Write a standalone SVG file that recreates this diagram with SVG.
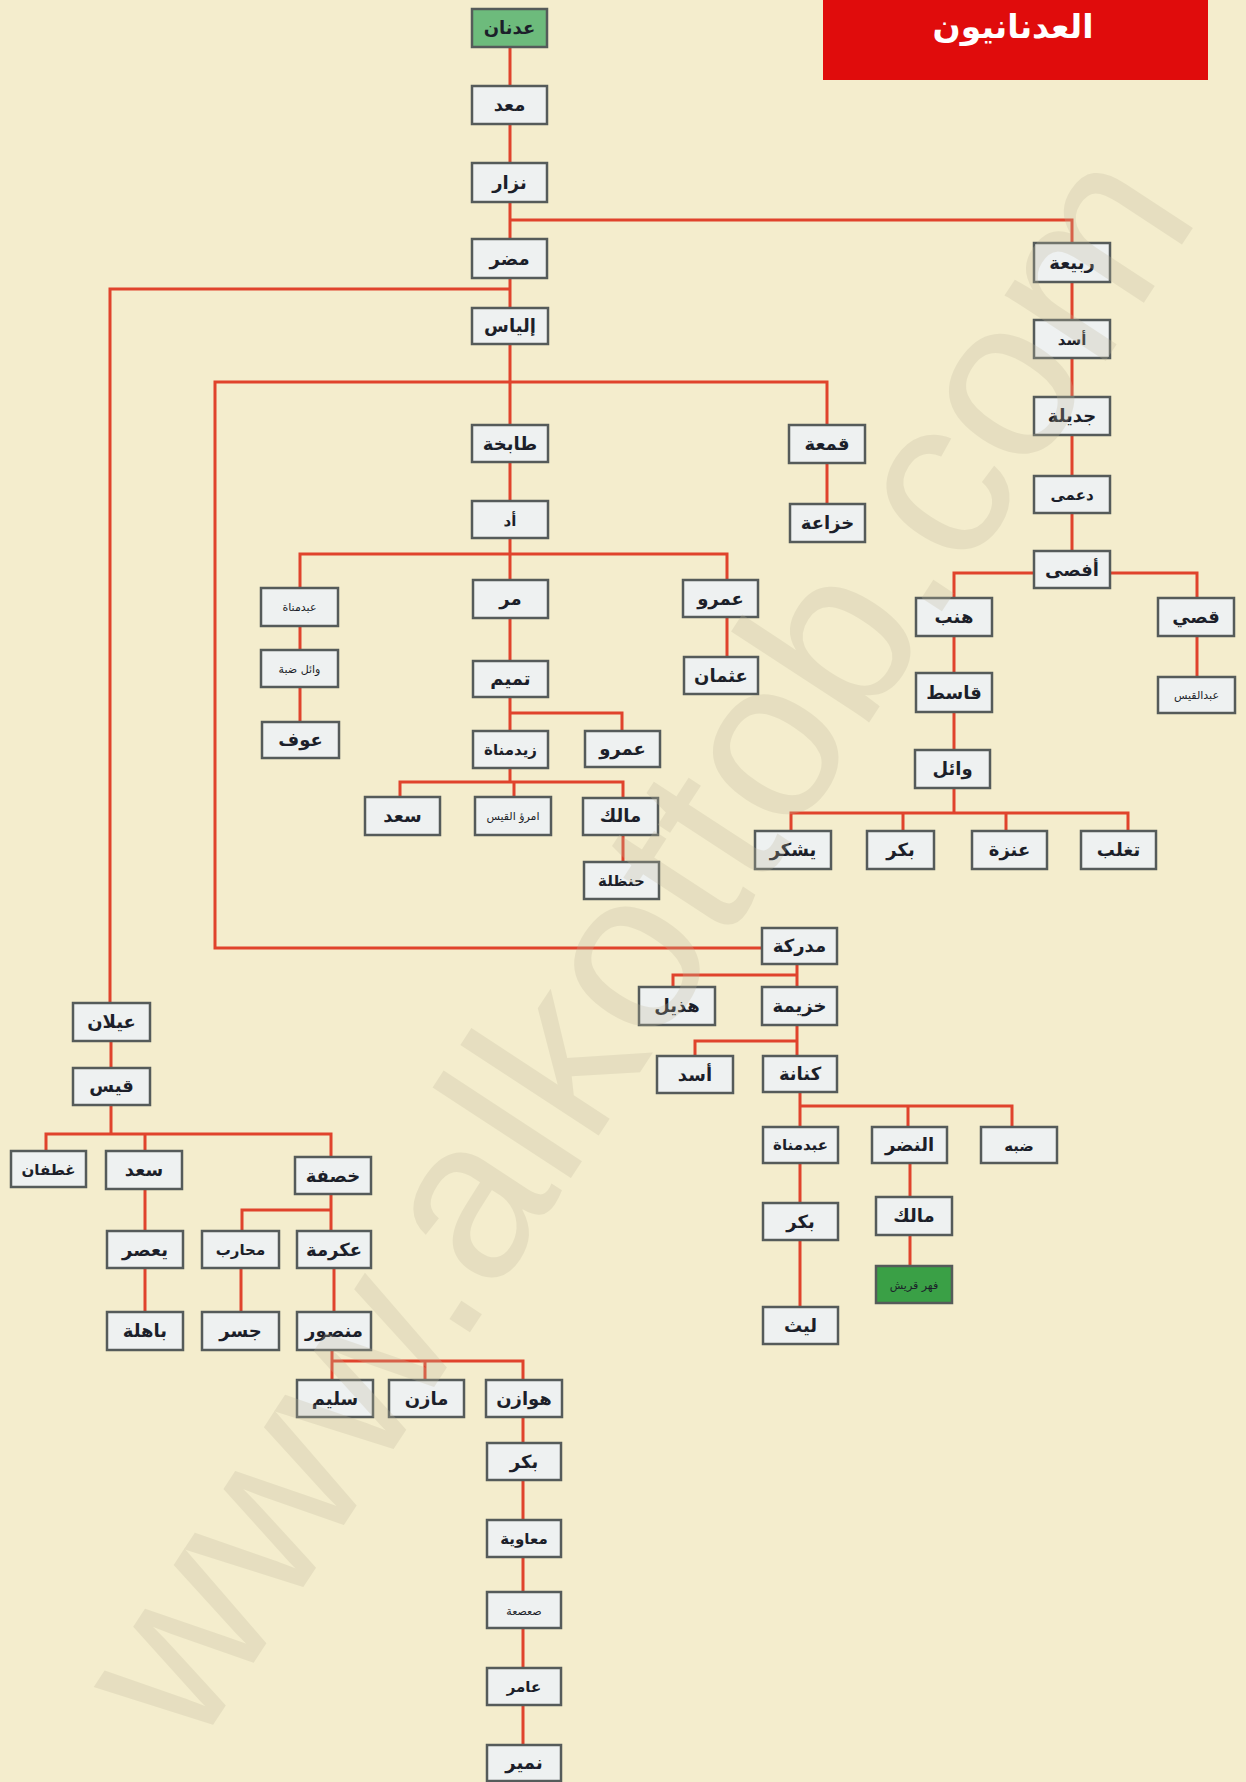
<svg xmlns="http://www.w3.org/2000/svg" width="1246" height="1782" viewBox="0 0 1246 1782">
<defs>
<style>
.bg{fill:#f4edcd}
.b rect{fill:#eef1f1;stroke:#555b5a;stroke-width:2.5}
.b.g rect{fill:#6dbb7c}
.b.dg rect{fill:#3aa046}
.b text{font-family:"DejaVu Sans",sans-serif;font-weight:bold;font-size:18px;fill:#1c1f2a;text-anchor:middle}
.b text.s{font-size:11px;font-weight:normal}
.b text.m{font-size:15px}
.c path{fill:none;stroke:#e0432c;stroke-width:3}
.title text{font-family:"DejaVu Sans",sans-serif;font-weight:bold;font-size:33px;fill:#ffffff;text-anchor:middle}
.wm{font-family:"Liberation Sans",sans-serif;font-size:228px;fill:#bfb79c;opacity:0.26;text-anchor:middle}
</style>
</defs>
<rect class="bg" x="0" y="0" width="1246" height="1782"/>
<g id="title" class="title">
<rect x="823" y="0" width="385" height="80" fill="#e00c0c"/>
<text x="1013" y="38">العدنانيون</text>
</g>
<g id="connectors" class="c">
<path d="M510,47V782"/>
<path d="M510,220H1072V551"/>
<path d="M954,598V573H1197V598"/>
<path d="M954,636V813"/>
<path d="M1197,636V677"/>
<path d="M791,831V813H1128V831M903,813V831M1006,813V831"/>
<path d="M510,289H110V1003"/>
<path d="M111,1041V1134"/>
<path d="M46,1151V1134H331V1157M145,1134V1151"/>
<path d="M145,1189V1312"/>
<path d="M331,1194V1231M242,1231V1210H331"/>
<path d="M241,1268V1312"/>
<path d="M334,1268V1312"/>
<path d="M332,1350V1380M332,1361H523V1745M425,1361V1380"/>
<path d="M827,425V382H215V948H762"/>
<path d="M827,463V504"/>
<path d="M300,588V554H727V657"/>
<path d="M300,626V722"/>
<path d="M510,713H622V731"/>
<path d="M400,797V782H623V862M514,782V797"/>
<path d="M797,964V987M673,987V975H797"/>
<path d="M797,1025V1056M695,1056V1041H797"/>
<path d="M800,1092V1307M800,1106H1012V1127M908,1106V1127"/>
<path d="M910,1163V1266"/>
</g>
<g id="n_adnan" class="b g"><rect x="472" y="9" width="75" height="38"/><text x="509.5" y="34">عدنان</text></g>
<g id="n_maad" class="b"><rect x="472" y="86" width="75" height="38"/><text x="509.5" y="111">معد</text></g>
<g id="n_nizar" class="b"><rect x="472" y="163" width="75" height="39"/><text x="509.5" y="189">نزار</text></g>
<g id="n_mudar" class="b"><rect x="472" y="239" width="75" height="39"/><text x="509.5" y="265">مضر</text></g>
<g id="n_ilyas" class="b"><rect x="472" y="308" width="76" height="36"/><text x="510" y="332">إلياس</text></g>
<g id="n_tabikha" class="b"><rect x="472" y="425" width="76" height="37"/><text x="510" y="450">طابخة</text></g>
<g id="n_ud" class="b"><rect x="472" y="501" width="76" height="37"/><text x="510" y="526" class="m">أد</text></g>
<g id="n_qamaa" class="b"><rect x="789" y="425" width="76" height="38"/><text x="827" y="450">قمعة</text></g>
<g id="n_khuzaa" class="b"><rect x="790" y="504" width="75" height="38"/><text x="827.5" y="529">خزاعة</text></g>
<g id="n_rabia" class="b"><rect x="1034" y="243" width="76" height="39"/><text x="1072" y="269">ربيعة</text></g>
<g id="n_asad1" class="b"><rect x="1034" y="320" width="76" height="38"/><text x="1072" y="345" class="m">أسد</text></g>
<g id="n_jadila" class="b"><rect x="1034" y="397" width="76" height="38"/><text x="1072" y="422">جديلة</text></g>
<g id="n_dumi" class="b"><rect x="1034" y="476" width="76" height="37"/><text x="1072" y="500" class="m">دعمى</text></g>
<g id="n_afsa" class="b"><rect x="1034" y="551" width="76" height="37"/><text x="1072" y="576">أفصى</text></g>
<g id="n_hinb" class="b"><rect x="916" y="598" width="76" height="38"/><text x="954" y="623">هنب</text></g>
<g id="n_qusay" class="b"><rect x="1158" y="598" width="76" height="38"/><text x="1196" y="623">قصي</text></g>
<g id="n_qasit" class="b"><rect x="916" y="673" width="76" height="39"/><text x="954" y="699">قاسط</text></g>
<g id="n_abdqays" class="b"><rect x="1158" y="677" width="77" height="36"/><text x="1196.5" y="699" class="s">عبدالقيس</text></g>
<g id="n_wail" class="b"><rect x="915" y="750" width="75" height="38"/><text x="952.5" y="775">وائل</text></g>
<g id="n_yashkur" class="b"><rect x="755" y="831" width="76" height="38"/><text x="793" y="856">يشكر</text></g>
<g id="n_bakr1" class="b"><rect x="867" y="831" width="67" height="38"/><text x="900.5" y="856">بكر</text></g>
<g id="n_anaza" class="b"><rect x="972" y="831" width="75" height="38"/><text x="1009.5" y="856">عنزة</text></g>
<g id="n_taghlib" class="b"><rect x="1081" y="831" width="75" height="38"/><text x="1118.5" y="856">تغلب</text></g>
<g id="n_abdmanat1" class="b"><rect x="261" y="588" width="77" height="38"/><text x="299.5" y="611" class="s">عبدمناة</text></g>
<g id="n_wailzabba" class="b"><rect x="261" y="650" width="77" height="37"/><text x="299.5" y="673" class="s">وائل ضبة</text></g>
<g id="n_awf" class="b"><rect x="262" y="722" width="77" height="36"/><text x="300.5" y="746">عوف</text></g>
<g id="n_murr" class="b"><rect x="473" y="580" width="75" height="38"/><text x="510.5" y="605">مر</text></g>
<g id="n_amr1" class="b"><rect x="683" y="580" width="75" height="37"/><text x="720.5" y="605">عمرو</text></g>
<g id="n_uthman" class="b"><rect x="684" y="657" width="74" height="37"/><text x="721" y="682">عثمان</text></g>
<g id="n_tamim" class="b"><rect x="473" y="661" width="75" height="36"/><text x="510.5" y="685">تميم</text></g>
<g id="n_zaydmanat" class="b"><rect x="473" y="731" width="75" height="37"/><text x="510.5" y="755" class="m">زيدمناة</text></g>
<g id="n_amr2" class="b"><rect x="585" y="731" width="75" height="36"/><text x="622.5" y="755">عمرو</text></g>
<g id="n_saad1" class="b"><rect x="365" y="797" width="75" height="38"/><text x="402.5" y="822">سعد</text></g>
<g id="n_imru" class="b"><rect x="475" y="797" width="76" height="38"/><text x="513" y="820" class="s">امرؤ القيس</text></g>
<g id="n_malik1" class="b"><rect x="583" y="798" width="75" height="37"/><text x="620.5" y="822">مالك</text></g>
<g id="n_hanzala" class="b"><rect x="584" y="862" width="75" height="37"/><text x="621.5" y="886" class="m">حنظلة</text></g>
<g id="n_mudrika" class="b"><rect x="762" y="928" width="75" height="36"/><text x="799.5" y="952">مدركة</text></g>
<g id="n_hudhayl" class="b"><rect x="639" y="987" width="76" height="38"/><text x="677" y="1012">هذيل</text></g>
<g id="n_khuzayma" class="b"><rect x="762" y="987" width="75" height="38"/><text x="799.5" y="1012">خزيمة</text></g>
<g id="n_asad2" class="b"><rect x="657" y="1056" width="76" height="37"/><text x="695" y="1081">أسد</text></g>
<g id="n_kinana" class="b"><rect x="763" y="1056" width="74" height="36"/><text x="800" y="1080">كنانة</text></g>
<g id="n_abdmanat2" class="b"><rect x="763" y="1127" width="75" height="36"/><text x="800.5" y="1150" class="m">عبدمناة</text></g>
<g id="n_nadr" class="b"><rect x="872" y="1127" width="75" height="36"/><text x="909.5" y="1151">النضر</text></g>
<g id="n_dabba" class="b"><rect x="981" y="1127" width="76" height="36"/><text x="1019" y="1151" class="m">ضبه</text></g>
<g id="n_bakr2" class="b"><rect x="763" y="1203" width="75" height="37"/><text x="800.5" y="1228">بكر</text></g>
<g id="n_malik2" class="b"><rect x="876" y="1197" width="76" height="38"/><text x="914" y="1222">مالك</text></g>
<g id="n_fihr" class="b dg"><rect x="876" y="1266" width="76" height="37"/><text x="914" y="1289" class="s">فهر قريش</text></g>
<g id="n_layth" class="b"><rect x="763" y="1307" width="75" height="37"/><text x="800.5" y="1332">ليث</text></g>
<g id="n_aylan" class="b"><rect x="73" y="1003" width="77" height="38"/><text x="111.5" y="1028">عيلان</text></g>
<g id="n_qays" class="b"><rect x="73" y="1068" width="77" height="37"/><text x="111.5" y="1092">قيس</text></g>
<g id="n_ghatafan" class="b"><rect x="11" y="1151" width="75" height="36"/><text x="48.5" y="1175" class="m">غطفان</text></g>
<g id="n_saad2" class="b"><rect x="106" y="1151" width="76" height="38"/><text x="144" y="1176">سعد</text></g>
<g id="n_khasafa" class="b"><rect x="295" y="1157" width="76" height="37"/><text x="333" y="1182">خصفة</text></g>
<g id="n_yasur" class="b"><rect x="107" y="1231" width="76" height="37"/><text x="145" y="1256">يعصر</text></g>
<g id="n_muharib" class="b"><rect x="202" y="1231" width="77" height="37"/><text x="240.5" y="1255" class="m">محارب</text></g>
<g id="n_ikrima" class="b"><rect x="297" y="1231" width="74" height="37"/><text x="334" y="1256">عكرمة</text></g>
<g id="n_bahila" class="b"><rect x="107" y="1312" width="76" height="38"/><text x="145" y="1337">باهلة</text></g>
<g id="n_jasr" class="b"><rect x="202" y="1312" width="77" height="38"/><text x="240.5" y="1337">جسر</text></g>
<g id="n_mansur" class="b"><rect x="297" y="1312" width="74" height="38"/><text x="334" y="1337">منصور</text></g>
<g id="n_sulaym" class="b"><rect x="297" y="1380" width="76" height="37"/><text x="335" y="1405">سليم</text></g>
<g id="n_mazin" class="b"><rect x="389" y="1380" width="75" height="37"/><text x="426.5" y="1405">مازن</text></g>
<g id="n_hawazin" class="b"><rect x="486" y="1380" width="76" height="37"/><text x="524" y="1405">هوازن</text></g>
<g id="n_bakr3" class="b"><rect x="487" y="1443" width="74" height="37"/><text x="524" y="1468">بكر</text></g>
<g id="n_muawiya" class="b"><rect x="487" y="1520" width="74" height="37"/><text x="524" y="1544" class="m">معاوية</text></g>
<g id="n_sasaa" class="b"><rect x="487" y="1592" width="74" height="36"/><text x="524" y="1615" class="s">صعصعة</text></g>
<g id="n_amir" class="b"><rect x="487" y="1668" width="74" height="37"/><text x="524" y="1692" class="m">عامر</text></g>
<g id="n_numayr" class="b"><rect x="487" y="1745" width="74" height="36"/><text x="524" y="1769">نمير</text></g>
<text class="wm" x="646" y="1012" transform="rotate(-56.8 646 950)">www.alkottob.com</text>
</svg>
